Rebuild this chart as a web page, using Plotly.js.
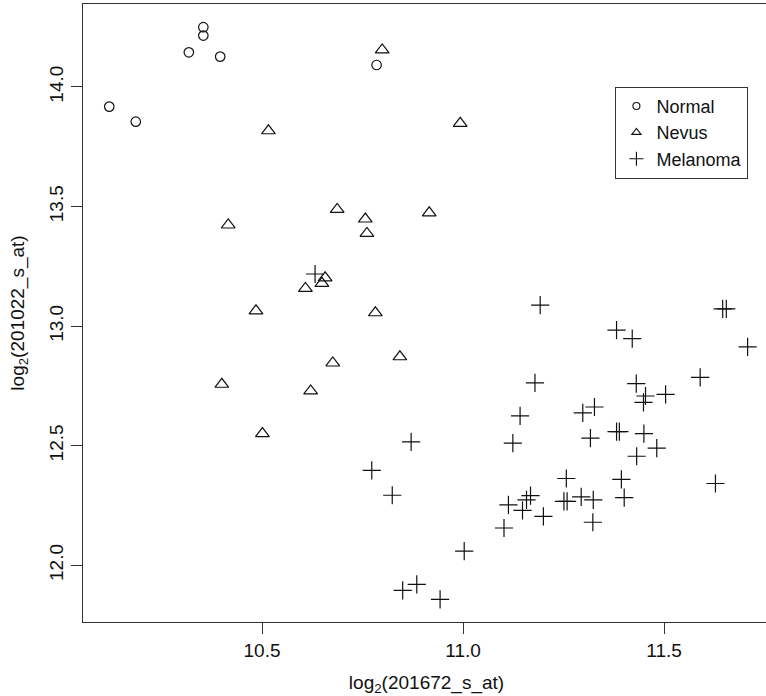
<!DOCTYPE html>
<html>
<head>
<meta charset="utf-8">
<script src="https://cdn.plot.ly/plotly-3.0.1.min.js"></script>
<style>
  html, body { margin: 0; padding: 0; overflow: hidden; background: #fff; }
  #chart { width: 780px; height: 710px; }
</style>
</head>
<body>
<div id="chart"></div>
<script>
// Expression of two probes (log2 scale) for three tissue groups
const normalX = [10.120, 10.186, 10.318, 10.354, 10.354, 10.396, 10.785];
const normalY = [13.918, 13.855, 14.145, 14.250, 14.215, 14.127, 14.092];

const nevusX = [10.799, 10.516, 10.993, 10.687, 10.757, 10.416, 10.916, 10.761, 10.657,
                10.649, 10.608, 10.485, 10.782, 10.843, 10.676, 10.400, 10.621, 10.501];
const nevusY = [14.155, 13.817, 13.848, 13.488, 13.448, 13.423, 13.474, 13.388, 13.202,
                13.179, 13.158, 13.064, 13.056, 12.872, 12.846, 12.757, 12.729, 12.551];

const melanomaX = [10.632, 10.871, 11.192, 11.646, 11.655, 11.382, 11.421, 11.708, 11.590,
                   11.179, 11.431, 11.454, 11.504, 11.449, 11.327, 11.298, 11.142, 11.124,
                   11.317, 11.382, 11.389, 11.450, 11.482, 11.432, 11.257, 11.394, 11.628,
                   11.168, 11.158, 11.113, 11.148, 11.200, 11.251, 11.259, 11.294, 11.324,
                   11.401, 11.323, 11.102, 11.003, 10.885, 10.850, 10.943, 10.773, 10.824];
const melanomaY = [13.218, 12.516, 13.088, 13.072, 13.072, 12.983, 12.948, 12.913, 12.786,
                   12.763, 12.760, 12.708, 12.715, 12.681, 12.662, 12.637, 12.625, 12.511,
                   12.532, 12.559, 12.559, 12.551, 12.490, 12.456, 12.363, 12.359, 12.342,
                   12.291, 12.274, 12.253, 12.230, 12.205, 12.267, 12.267, 12.286, 12.274,
                   12.283, 12.180, 12.156, 12.059, 11.920, 11.895, 11.858, 12.397, 12.293];

const groupNames = ['Normal', 'Nevus', 'Melanoma'];
const xTicks = [10.5, 11.0, 11.5];
const yTicks = [12.0, 12.5, 13.0, 13.5, 14.0];

const ink = '#111';
const FONT = '"Liberation Sans", Arial, Helvetica, sans-serif';

function pointTrace(x, y, symbol, size, name) {
  return {
    type: 'scatter', mode: 'markers', x: x, y: y, name: name,
    showlegend: false, hoverinfo: 'x+y',
    marker: { symbol: symbol, size: size, color: ink, line: { color: ink, width: 1.2 } }
  };
}

// small legend-only keys
function keyTrace(symbol, size, name) {
  return {
    type: 'scatter', mode: 'markers', x: [null], y: [null], name: name,
    showlegend: true, hoverinfo: 'skip',
    marker: { symbol: symbol, size: size, color: ink, line: { color: ink, width: 1.1 } }
  };
}

const data = [
  pointTrace(normalX, normalY, 'circle-open', 9.5, groupNames[0]),
  pointTrace(nevusX, nevusY, 'triangle-up-open', 12, groupNames[1]),
  pointTrace(melanomaX, melanomaY, 'cross-thin-open', 13, groupNames[2]),
  keyTrace('circle-open', 7, groupNames[0]),
  keyTrace('triangle-up-open', 8, groupNames[1]),
  keyTrace('cross-thin-open', 10, groupNames[2])
];

const layout = {
  width: 780, height: 710,
  margin: { l: 83, r: 10, t: 4, b: 88 },
  paper_bgcolor: '#fff', plot_bgcolor: '#fff',
  font: { family: FONT, size: 19, color: ink },
  showlegend: true,
  legend: {
    x: 0.775, y: 0.866, xanchor: 'left', yanchor: 'top',
    bgcolor: '#fff', bordercolor: '#333', borderwidth: 1,
    font: { family: FONT, size: 18, color: ink },
    itemwidth: 30, tracegroupgap: 0
  },
  xaxis: {
    range: [10.0547, 11.7637], tickvals: xTicks, ticktext: xTicks.map(v => v.toFixed(1)),
    ticks: 'outside', ticklen: 11, tickwidth: 1, tickcolor: '#333',
    showline: true, mirror: true, linecolor: '#333', linewidth: 1.3,
    showgrid: false, zeroline: false,
    tickfont: { family: FONT, size: 19, color: ink },
    title: { text: 'log<sub>2</sub>(201672_s_at)', font: { family: FONT, size: 19, color: ink }, standoff: 15 }
  },
  yaxis: {
    range: [11.763, 14.347], tickvals: yTicks, ticktext: yTicks.map(v => v.toFixed(1)),
    tickangle: -90,
    ticks: 'outside', ticklen: 11, tickwidth: 1, tickcolor: '#333',
    showline: true, mirror: true, linecolor: '#333', linewidth: 1.3,
    showgrid: false, zeroline: false,
    tickfont: { family: FONT, size: 19, color: ink },
    title: { text: 'log<sub>2</sub>(201022_s_at)', font: { family: FONT, size: 19, color: ink }, standoff: 16 }
  }
};

Plotly.newPlot('chart', data, layout, { displayModeBar: false, staticPlot: true });
</script>
</body>
</html>
